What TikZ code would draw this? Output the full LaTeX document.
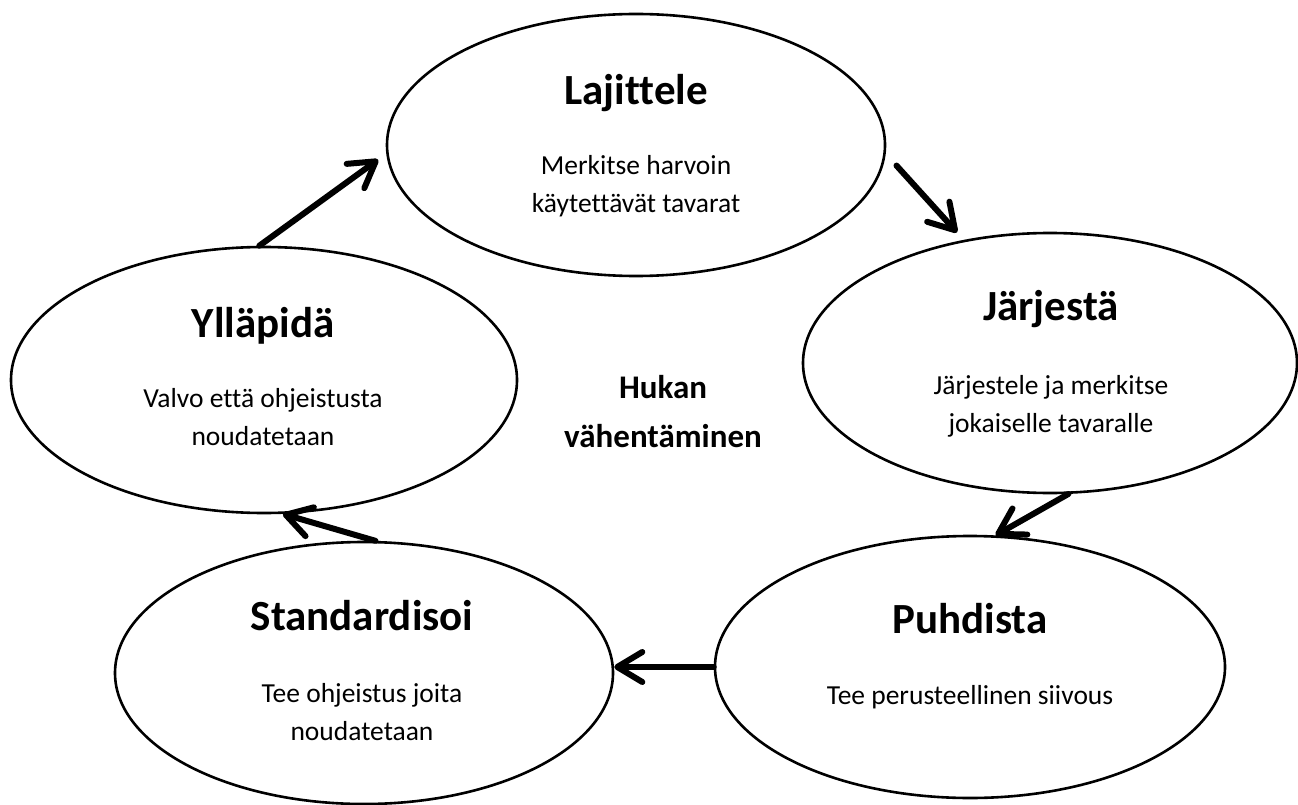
\documentclass[tikz,border=0pt]{standalone}
\usepackage{fontspec}
\setmainfont{Carlito}[Ligatures=NoCommon]
\usetikzlibrary{shapes.geometric,arrows.meta}
\begin{document}
\begin{tikzpicture}[x=1pt,y=-1pt,
  ell/.style 2 args={draw,ellipse,line width=2.6pt,inner sep=0pt,minimum width=#1,minimum height=#2},
  ttl/.style={font=\bfseries\fontsize{43}{50}\selectfont,anchor=base,inner sep=0pt},
  bdy/.style={font=\fontsize{27.5}{38}\selectfont,anchor=base,inner sep=0pt,align=center},
  ctr/.style={font=\bfseries\fontsize{33}{49}\selectfont,anchor=base,inner sep=0pt,align=center},
  arr/.style={line width=6pt,line cap=round,-{Straight Barb[length=25pt,width=30pt,round]}}
]
\useasboundingbox (0,0) rectangle (1298,805);
\fill[white] (0,0) rectangle (1298,805);

\node[ell={498pt}{262pt}] (L) at (636,145) {};
\node[ell={494pt}{260pt}] (J) at (1050,363) {};
\node[ell={506pt}{266pt}] (Y) at (264,380) {};
\node[ell={498pt}{262pt}] (S) at (364,673) {};
\node[ell={510pt}{262pt}] (P) at (970,667) {};

% multi-line nodes: base anchor is the baseline of the last line
\node[ttl] (Lt) at (636,105) {Lajittele};
\node[bdy] (Lb) at (636,213) {Merkitse harvoin\\käytettävät tavarat};
\node[ttl] (Jt) at (1051,320) {Järjestä};
\node[bdy] (Jb) at (1051,432) {Järjestele ja merkitse\\jokaiselle tavaralle};
\node[ttl] (Yt) at (263,337) {Ylläpidä};
\node[bdy] (Yb) at (263,445) {Valvo että ohjeistusta\\noudatetaan};
\node[ttl] (St) at (362,630) {Standardisoi};
\node[bdy] (Sb) at (362,740) {Tee ohjeistus joita\\noudatetaan};
\node[ttl] (Pt) at (970,633) {Puhdista};
\node[bdy] (Pb) at (970,704) {Tee perusteellinen siivous};
\node[ctr] (C) at (663,447) {Hukan\\vähentäminen};

\draw[arr,shorten >=10pt] (Y.92.5) -- (L.182);
\draw[arr,shorten <=16pt,shorten >=10pt] (L.-2) -- (J.125.5);
\draw[arr] (J.-82.5) -- (P.79);
\draw[arr] (P.west) -- (P.west -| S.east);
\draw[arr] (S.85.6) -- (Y.-82.5);
\end{tikzpicture}
\end{document}
